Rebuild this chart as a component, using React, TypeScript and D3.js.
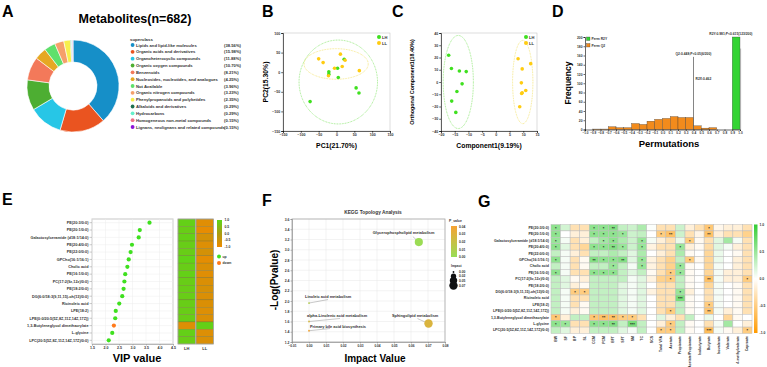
import { useEffect, useRef } from 'react';
import * as d3 from 'd3';

const FONT = "'Liberation Sans', Arial, sans-serif";

// A: superclass composition of the 682 metabolites
const superclassNames = [
    'Lipids and lipid-like molecules',
    'Organic acids and derivatives',
    'Organoheterocyclic compounds',
    'Organic oxygen compounds',
    'Benzenoids',
    'Nucleosides, nucleotides, and analogues',
    'Not Available',
    'Organic nitrogen compounds',
    'Phenylpropanoids and polyketides',
    'Alkaloids and derivatives',
    'Hydrocarbons',
    'Homogeneous non-metal compounds',
    'Lignans, neolignans and related compounds',
];
const superclassCounts = [263, 109, 81, 73, 56, 29, 27, 22, 16, 2, 2, 1, 1];
const superclassColors = [
    '#168fc8', '#ea5420', '#27c6e6', '#4dae32', '#f3795a', '#e6a823', '#5fe06c',
    '#f5a06a', '#f7ef4c', '#1e7050', '#66f0cc', '#ef7086', '#8b14d8',
];

// B: PCA scores
const pcaLH: [number, number][] = [
    [-21.5, 1], [-21.5, -5], [3, 10], [5, -13.5], [21.5, 33], [55, -40], [63, -53], [-74, -75],
];
const pcaLL: [number, number][] = [
    [-50, 34], [-37.5, 24.5], [-5.5, 10], [-22.5, -9], [11, 46], [24, 30.5], [16, 14.5], [64, 4],
];
const pcaEllipses = [
    { group: 'LH', cx: 5, cy: -25, rx: 110, ry: 107 },
    { group: 'LL', cx: -1, cy: 21, rx: 90, ry: 39 },
];
const pcaXTicks = [-150, -100, -50, 0, 50, 100, 150];
const pcaYTicks = [-150, -100, -50, 0, 50, 100];

// C: OPLS-DA scores
const oplsLH: [number, number][] = [
    [-17.2, 21.8], [-16.2, 11], [-13.3, 9], [-10.8, 8.5], [-12.3, -1.5], [-14.2, -7.7], [-16.1, -15.6], [-14.6, -24.8],
];
const oplsLL: [number, number][] = [
    [8.1, 19], [9.6, 10.7], [9.3, -0.7], [9.6, -8.8], [10.9, -6.9], [12.7, 15], [8.7, -20.2], [9.4, -9.4],
];
const oplsEllipses = [
    { group: 'LH', cx: -13.7, cy: 0, rx: 5.5, ry: 38 },
    { group: 'LL', cx: 9.8, cy: 0, rx: 3.7, ry: 34 },
];
const oplsXTicks = [-20, -15, -10, -5, 0, 5, 10, 15];
const oplsYTicks = [-40, -30, -20, -10, 0, 10, 20, 30, 40];

// D: permutation test (200 permutations)
const q2BinStarts = [-0.9, -0.8, -0.7, -0.6, -0.5, -0.4, -0.3, -0.2, -0.1, 0.0, 0.1, 0.2, 0.3, 0.4, 0.5, 0.6];
const q2Counts = [1, 1, 6, 4, 4, 13, 11, 18, 22, 24, 28, 26, 26, 8, 3, 4];
const r2yBinStarts = [0.9];
const r2yCounts = [200];
const q2Line = { x: 0.4, height: 157 };
const r2yLine = { x: 1.0, height: 175 };
const permXTicks = [-1.0, -0.9, -0.8, -0.7, -0.6, -0.5, -0.4, -0.3, -0.2, -0.1, 0.0, 0.1, 0.2, 0.3, 0.4, 0.5, 0.6, 0.7, 0.8, 0.9, 1.0];
const permYTicks = [0, 20, 40, 60, 80, 100, 120, 140, 160, 180, 200];

// E: VIP of differential metabolites
const metaboliteNames = [
    'PE(20:3/0:0)',
    'PE(20:1/0:0)',
    'Galactosylceramide (d18:1/14:0)',
    'PE(20:4/0:0)',
    'PE(22:0/0:0)',
    'GPCho(16:1/16:1)',
    'Cholic acid',
    'PE(16:1/0:0)',
    'PC(17:2(9z,12z)/0:0)',
    'PE(18:2/0:0)',
    'DG(6:0/18:3(9,11,15)-oh(13)/0:0)',
    'Ricinoleic acid',
    'LPE(18:2)',
    'LPE(0:0/20:5(5Z,8Z,11Z,14Z,17Z))',
    '1,3-Butyleneglycol dimethacrylate',
    'L-glycine',
    'LPC(20:5(5Z,8Z,11Z,14Z,17Z)/0:0)',
];
const vipValues = [3.63, 3.27, 3.23, 2.98, 2.93, 2.86, 2.81, 2.73, 2.7, 2.67, 2.62, 2.51, 2.38, 2.36, 2.31, 2.25, 2.12];
const vipTrend = ['up', 'up', 'up', 'up', 'up', 'up', 'up', 'up', 'up', 'up', 'up', 'up', 'up', 'up', 'down', 'up', 'up'];
const zLH = [0.9, 0.85, 0.9, 0.85, 0.85, 0.95, 0.85, 0.9, 0.85, 0.85, 0.85, 0.85, 0.85, 0.85, -0.75, 0.9, 0.85];
const zLL = [-0.8, -0.9, -0.6, -0.75, -0.6, -0.85, -0.7, -0.8, -0.7, -0.65, -0.7, -0.7, -0.75, -0.7, 0.9, -0.75, -0.7];
const vipTicks = [1.5, 2.0, 2.5, 3.0, 3.5, 4.0, 4.5];
const zTicks = [1.0, 0.5, 0.0, -0.5, -1.0];

// F: KEGG topology
const pathwayNames = [
    'Glycerophospholipid metabolism',
    'Sphingolipid metabolism',
    'Linoleic acid metabolism',
    'alpha-Linolenic acid metabolism',
    'Primary bile acid biosynthesis',
];
const pathwayImpact = [0.0646, 0.0703, 0.0, 0.0, 0.0];
const pathwayLogP = [3.15, 1.56, 1.96, 1.6, 1.42];
const impactTicks = [-0.01, 0.0, 0.01, 0.02, 0.03, 0.04, 0.05, 0.06, 0.07, 0.08];
const logPTicks = [1.2, 1.4, 1.6, 1.8, 2.0, 2.2, 2.4, 2.6, 2.8, 3.0, 3.2, 3.4, 3.6];
const pTicks = [0.04, 0.03, 0.02, 0.01, 0.0];
const impactLegend = [0.0, 0.02, 0.05, 0.07];

// G: correlation with phenotype / rumen fermentation
const envFactors = [
    'BW', 'SF', 'BP', 'SL', 'CCM', 'PCM', 'BFT', 'SFT', 'SM', 'TC', 'SCS', 'Total VFA', 'Acetate',
    'Propionate', 'Acetate/Propionate', 'Isobutyrate', 'Butyrate', 'Isovalerate', 'Valerate',
    '4-methylvalerate', 'Caproate',
];
const corrMatrix = [
    [0.55, 0.22, -0.3, -0.3, 0.55, 0.55, 0.6, 0.3, 0.25, 0.4, 0.02, -0.3, -0.3, 0.25, -0.15, -0.3, -0.55, -0.08, -0.15, -0.15, -0.3],
    [0.55, 0.0, -0.15, -0.15, 0.55, 0.55, 0.55, 0.5, 0.25, 0.3, 0.0, -0.5, -0.6, 0.25, -0.3, -0.1, -0.6, -0.15, -0.3, -0.3, -0.45],
    [0.5, 0.05, -0.3, -0.15, 0.3, 0.45, 0.55, 0.4, 0.25, 0.5, 0.05, -0.15, -0.3, 0.1, -0.5, -0.05, -0.3, 0.15, 0.45, 0.05, -0.3],
    [0.55, 0.15, -0.3, -0.4, 0.55, 0.55, 0.6, 0.5, 0.25, 0.5, -0.12, -0.3, -0.3, 0.5, -0.15, -0.05, -0.35, 0.15, 0.05, -0.15, -0.3],
    [0.3, 0.05, -0.15, -0.3, 0.3, 0.3, 0.4, 0.3, 0.15, 0.4, 0.0, -0.15, -0.3, 0.4, -0.05, 0.0, -0.4, 0.1, 0.0, -0.05, -0.3],
    [0.55, 0.05, -0.3, -0.05, 0.6, 0.55, 0.55, 0.6, 0.15, 0.5, -0.12, -0.3, -0.45, 0.3, -0.5, -0.05, -0.4, 0.1, 0.0, -0.15, -0.3],
    [0.3, 0.05, -0.3, -0.05, 0.3, 0.3, 0.5, 0.3, 0.05, 0.5, -0.12, -0.3, -0.45, 0.5, -0.05, 0.0, -0.4, 0.05, 0.0, -0.15, -0.3],
    [0.55, 0.05, -0.3, -0.3, 0.55, 0.55, 0.55, 0.3, 0.15, 0.3, -0.05, -0.3, -0.5, 0.5, -0.05, 0.0, -0.4, 0.05, -0.15, -0.15, -0.3],
    [0.3, 0.15, -0.05, -0.15, 0.3, 0.3, 0.3, 0.3, 0.05, 0.15, -0.12, -0.45, -0.5, 0.3, -0.05, 0.0, -0.6, 0.05, -0.15, -0.15, -0.5],
    [0.3, 0.15, -0.15, -0.05, 0.3, 0.3, 0.3, 0.15, 0.05, 0.15, 0.0, -0.3, -0.3, 0.3, -0.05, 0.0, -0.4, 0.05, 0.0, -0.05, -0.3],
    [0.3, 0.05, -0.5, -0.5, 0.3, 0.3, 0.3, 0.15, 0.05, 0.15, -0.12, -0.3, -0.3, 0.5, -0.15, 0.0, -0.3, 0.05, 0.0, -0.05, -0.3],
    [0.3, 0.05, -0.3, -0.3, 0.3, 0.3, 0.3, 0.15, 0.05, 0.15, 0.0, -0.3, -0.3, 0.65, -0.05, 0.0, -0.3, 0.05, 0.0, -0.05, -0.3],
    [0.3, 0.05, -0.3, -0.05, 0.3, 0.3, 0.3, 0.15, 0.05, 0.15, 0.0, -0.3, -0.3, 0.3, -0.05, 0.0, -0.5, 0.05, 0.0, -0.05, -0.3],
    [0.3, 0.05, -0.15, -0.05, 0.3, 0.3, 0.3, 0.15, 0.05, 0.15, 0.0, -0.3, -0.5, 0.3, -0.05, 0.0, -0.55, 0.05, -0.15, -0.05, -0.3],
    [-0.55, -0.15, 0.3, 0.3, -0.55, -0.6, -0.6, -0.5, -0.5, -0.3, 0.0, 0.15, -0.15, -0.3, 0.3, 0.0, 0.1, 0.0, -0.4, -0.05, 0.0],
    [0.55, 0.5, -0.3, -0.3, 0.55, 0.55, 0.6, 0.3, 0.65, 0.3, 0.0, -0.15, -0.5, 0.3, -0.05, 0.0, -0.3, 0.05, 0.45, 0.0, -0.15],
    [0.3, 0.15, -0.15, -0.15, 0.3, 0.3, 0.3, 0.15, 0.05, 0.3, 0.0, -0.5, -0.5, 0.3, -0.05, 0.0, -0.65, 0.05, -0.05, -0.15, -0.5],
];
const corrStars: [number, number, string][] = [
    [0, 0, '*'], [0, 4, '*'], [0, 5, '*'], [0, 6, '**'], [0, 16, '*'],
    [1, 0, '*'], [1, 4, '*'], [1, 5, '*'], [1, 6, '*'], [1, 7, '*'], [1, 11, '*'], [1, 12, '**'], [1, 16, '**'],
    [2, 0, '*'], [2, 5, '*'], [2, 6, '*'], [2, 9, '*'], [2, 14, '*'],
    [3, 0, '*'], [3, 4, '*'], [3, 5, '*'], [3, 6, '**'], [3, 7, '*'], [3, 9, '*'], [3, 13, '*'],
    [5, 0, '*'], [5, 4, '**'], [5, 5, '*'], [5, 6, '*'], [5, 7, '**'], [5, 9, '*'], [5, 14, '*'],
    [6, 6, '*'], [6, 9, '*'], [6, 13, '*'],
    [7, 0, '*'], [7, 4, '*'], [7, 5, '*'], [7, 6, '*'], [7, 12, '*'], [7, 13, '*'],
    [8, 12, '*'], [8, 16, '**'], [8, 20, '*'],
    [10, 2, '*'], [10, 3, '*'], [10, 13, '*'],
    [11, 13, '***'],
    [12, 16, '*'],
    [13, 12, '*'], [13, 16, '**'],
    [14, 0, '*'], [14, 4, '*'], [14, 5, '**'], [14, 6, '**'], [14, 7, '*'], [14, 8, '*'],
    [15, 0, '*'], [15, 1, '*'], [15, 4, '*'], [15, 5, '*'], [15, 6, '**'], [15, 8, '***'], [15, 12, '*'],
    [16, 11, '*'], [16, 12, '*'], [16, 16, '***'], [16, 20, '*'],
];
const corrTicks = [1.0, 0.5, 0.0, -0.5, -1.0];

const GREEN = '#3fe01f';
const YELLOW = '#ffcc11';

interface AxisProps {
    axis: any;
    transform: string;
    fontSize?: number;
    color?: string;
}

function Axis(props: AxisProps) {
    const { axis, transform, fontSize = 3.6, color = '#000' } = props;
    const ref = useRef<SVGGElement>(null);
    useEffect(() => {
        if (!ref.current) return;
        const g = d3.select(ref.current);
        g.call(axis);
        g.attr('font-size', null).attr('font-family', null);
        g.selectAll('text')
            .attr('font-size', fontSize)
            .attr('font-weight', 'bold')
            .attr('fill', '#333');
        g.selectAll('line, path').attr('stroke', color).attr('stroke-width', 0.6);
    });
    return <g ref={ref} transform={transform} />;
}

function PanelLabel({ x, y, text }: { x: number; y: number; text: string }) {
    return (
        <text x={x} y={y} fontSize={16} fontWeight="bold" fill="#000">
            {text}
        </text>
    );
}

function DonutPanel() {
    const total = d3.sum(superclassCounts);
    const pie = d3.pie<number>().sort(null).value((d) => d);
    const arc = d3.arc<d3.PieArcDatum<number>>().innerRadius(24).outerRadius(46);
    const arcs = pie(superclassCounts);
    const ly = d3.scalePoint<number>().domain(d3.range(superclassNames.length)).range([45, 127]);
    return (
        <g>
            <text x={135} y={23} fontSize={12.5} fontWeight="bold" textAnchor="middle">
                Metabolites(n={total})
            </text>
            <g transform="translate(73,86)">
                {arcs.map((a, i) => (
                    <path key={i} d={arc(a) || ''} fill={superclassColors[i]} stroke="#fff" strokeWidth={0.6} />
                ))}
            </g>
            <text x={130} y={40.5} fontSize={4.4} fontWeight="bold" fill="#333">
                superclass
            </text>
            {superclassNames.map((name, i) => (
                <g key={name} transform={`translate(0,${ly(i)})`}>
                    <circle cx={132.6} cy={0} r={1.9} fill={superclassColors[i]} />
                    <text x={136} y={1.5} fontSize={4.2} fontWeight="bold" fill="#333">
                        {name}
                    </text>
                    <text x={224} y={1.5} fontSize={4.2} fontWeight="bold" fill="#333">
                        ({((superclassCounts[i] / total) * 100).toFixed(2)}%)
                    </text>
                </g>
            ))}
        </g>
    );
}

interface ScoreProps {
    lh: [number, number][];
    ll: [number, number][];
    ellipses: { group: string; cx: number; cy: number; rx: number; ry: number }[];
    xDomain: [number, number];
    yDomain: [number, number];
    xTicks: number[];
    yTicks: number[];
    left: number;
    right: number;
    xLabel: string;
    yLabel: string;
    yLabelX: number;
    yLabelSize: number;
}

function ScorePlot(props: ScoreProps) {
    const { lh, ll, ellipses, xDomain, yDomain, xTicks, yTicks, left, right } = props;
    const x = d3.scaleLinear().domain(xDomain).range([left, right]);
    const y = d3.scaleLinear().domain(yDomain).range([131, 33]);
    const xAxis = d3.axisBottom(x).tickValues(xTicks).tickSize(1.8).tickPadding(1);
    const yAxis = d3.axisLeft(y).tickValues(yTicks).tickSize(1.8).tickPadding(1);
    return (
        <g>
            <rect x={left} y={33} width={right - left} height={98} fill="none" stroke="#bbb" strokeWidth={0.5} />
            {ellipses.map((e) => (
                <ellipse
                    key={e.group}
                    cx={x(e.cx)}
                    cy={y(e.cy)}
                    rx={x(e.cx + e.rx) - x(e.cx)}
                    ry={y(e.cy) - y(e.cy + e.ry)}
                    fill="none"
                    stroke={e.group === 'LH' ? '#6ee04e' : '#f0dc50'}
                    strokeWidth={0.7}
                    strokeDasharray="0.8,0.8"
                />
            ))}
            {lh.map((d, i) => (
                <circle key={`h${i}`} cx={x(d[0])} cy={y(d[1])} r={1.8} fill={GREEN} />
            ))}
            {ll.map((d, i) => (
                <circle key={`l${i}`} cx={x(d[0])} cy={y(d[1])} r={1.8} fill={YELLOW} />
            ))}
            <Axis axis={xAxis} transform="translate(0,131)" />
            <Axis axis={yAxis} transform={`translate(${left},0)`} />
            <circle cx={right - 11} cy={37} r={2} fill={GREEN} />
            <circle cx={right - 11} cy={43} r={2} fill={YELLOW} />
            <text x={right - 8} y={38.5} fontSize={4} fontWeight="bold" fill="#333">LH</text>
            <text x={right - 8} y={44.5} fontSize={4} fontWeight="bold" fill="#333">LL</text>
            <text x={(left + right) / 2} y={148} fontSize={6.8} fontWeight="bold" textAnchor="middle">
                {props.xLabel}
            </text>
            <text
                transform={`translate(${props.yLabelX},82) rotate(-90)`}
                fontSize={props.yLabelSize}
                fontWeight="bold"
                textAnchor="middle"
            >
                {props.yLabel}
            </text>
        </g>
    );
}

function PermutationPanel() {
    const x = d3.scaleLinear().domain([-1, 1]).range([585, 740]);
    const y = d3.scaleLinear().domain([0, 200]).range([129.5, 37]);
    const xAxis = d3.axisBottom(x).tickValues(permXTicks).tickFormat(d3.format('.1f')).tickSize(1.5).tickPadding(1);
    const yAxis = d3.axisLeft(y).tickValues(permYTicks).tickSize(1.5).tickPadding(1);
    return (
        <g>
            {q2BinStarts.map((s, i) => (
                <rect key={`q${i}`} x={x(s)} y={y(q2Counts[i])} width={x(s + 0.1) - x(s)} height={y(0) - y(q2Counts[i])} fill="#f28b1c" stroke="#333" strokeWidth={0.3} />
            ))}
            {r2yBinStarts.map((s, i) => (
                <rect key={`r${i}`} x={x(s)} y={y(r2yCounts[i])} width={x(s + 0.1) - x(s)} height={y(0) - y(r2yCounts[i])} fill="#33d433" stroke="#333" strokeWidth={0.3} />
            ))}
            <line x1={x(q2Line.x)} x2={x(q2Line.x)} y1={y(0)} y2={y(q2Line.height)} stroke="#666" strokeWidth={0.8} />
            <line x1={x(r2yLine.x) + 0.6} x2={x(r2yLine.x) + 0.6} y1={y(0)} y2={y(r2yLine.height)} stroke="#888" strokeWidth={0.6} />
            <Axis axis={xAxis} transform={`translate(0,${y(0)})`} fontSize={3.1} />
            <Axis axis={yAxis} transform={`translate(${x(-1)},0)`} fontSize={3.3} />
            <text x={x(0.9) - 23} y={35} fontSize={3.3} fontWeight="bold" fill="#333">R2Y:0.981;P&lt;0.615(123/200)</text>
            <text x={x(q2Line.x) - 18} y={y(q2Line.height) - 1.5} fontSize={3.3} fontWeight="bold" fill="#333">Q2:0.448;P&lt;0.05(6/200)</text>
            <text x={x(q2Line.x) + 2} y={80} fontSize={3.3} fontWeight="bold" fill="#333">R2X:0.462</text>
            <rect x={586.5} y={37} width={3.5} height={3.5} fill="#33d433" stroke="#333" strokeWidth={0.3} />
            <rect x={586.5} y={43.5} width={3.5} height={3.5} fill="#f28b1c" stroke="#333" strokeWidth={0.3} />
            <text x={591.5} y={40} fontSize={3.3} fontWeight="bold" fill="#333">Perm R2Y</text>
            <text x={591.5} y={46.5} fontSize={3.3} fontWeight="bold" fill="#333">Perm Q2</text>
            <text x={669} y={147} fontSize={9.5} fontWeight="bold" textAnchor="middle">Permutations</text>
            <text transform="translate(571,83) rotate(-90)" fontSize={8.5} fontWeight="bold" textAnchor="middle">Frequency</text>
        </g>
    );
}

function VipPanel() {
    const x = d3.scaleLinear().domain([1.5, 4.5]).range([92, 173]);
    const y = d3.scaleBand<string>().domain(metaboliteNames).range([219, 344]);
    const z = d3.scaleLinear<string>().domain([-1, 0, 1]).range(['#ee8a00', '#aa9c12', '#5cd618']);
    const xAxis = d3.axisBottom(x).tickValues(vipTicks).tickFormat(d3.format('.1f')).tickSize(1.5).tickPadding(1);
    const bw = y.bandwidth();
    const zBar = d3.scaleLinear().domain([1, -1]).range([220, 247]);
    return (
        <g>
            <rect x={92} y={219} width={81} height={125} fill="#fff" stroke="#c8c8c8" strokeWidth={1} />
            {vipTicks.map((t) => (
                <line key={t} x1={x(t)} x2={x(t)} y1={219} y2={344} stroke="#ececec" strokeWidth={0.5} />
            ))}
            {metaboliteNames.map((n) => (
                <line key={n} x1={92} x2={173} y1={(y(n) || 0) + bw / 2} y2={(y(n) || 0) + bw / 2} stroke="#ececec" strokeWidth={0.5} />
            ))}
            <Axis axis={xAxis} transform="translate(0,344)" color="#999" />
            {metaboliteNames.map((n, i) => (
                <g key={n}>
                    <text x={88.5} y={(y(n) || 0) + bw / 2 + 1.3} fontSize={3.8} fontWeight="bold" textAnchor="end" fill="#333">
                        {n}
                    </text>
                    <line x1={89.5} x2={92} y1={(y(n) || 0) + bw / 2} y2={(y(n) || 0) + bw / 2} stroke="#999" strokeWidth={0.5} />
                    <circle cx={x(vipValues[i])} cy={(y(n) || 0) + bw / 2} r={2.1} fill={vipTrend[i] === 'up' ? GREEN : '#ff7a1a'} />
                    <rect x={178} y={y(n)} width={17.5} height={bw} fill={z(zLH[i])} stroke="#6b6a30" strokeWidth={0.3} />
                    <rect x={196} y={y(n)} width={17.5} height={bw} fill={z(zLL[i])} stroke="#6b6a30" strokeWidth={0.3} />
                </g>
            ))}
            <rect x={178} y={219} width={17.5} height={125} fill="none" stroke="#aaa" strokeWidth={0.8} />
            <rect x={196} y={219} width={17.5} height={125} fill="none" stroke="#aaa" strokeWidth={0.8} />
            <text x={186.7} y={349.5} fontSize={4} fontWeight="bold" textAnchor="middle" fill="#333">LH</text>
            <text x={204.7} y={349.5} fontSize={4} fontWeight="bold" textAnchor="middle" fill="#333">LL</text>
            <defs>
                <linearGradient id="eGrad" x1="0" y1="0" x2="0" y2="1">
                    <stop offset="0%" stopColor={z(1)} />
                    <stop offset="50%" stopColor={z(0)} />
                    <stop offset="100%" stopColor={z(-1)} />
                </linearGradient>
            </defs>
            <rect x={217} y={220} width={5} height={27} fill="url(#eGrad)" />
            {zTicks.map((t) => (
                <text key={t} x={224.5} y={zBar(t) + 1.2} fontSize={3.4} fontWeight="bold" fill="#333">
                    {t.toFixed(1)}
                </text>
            ))}
            <circle cx={219} cy={256.5} r={2} fill={GREEN} />
            <circle cx={219} cy={263} r={2} fill="#ff7a1a" />
            <text x={222.5} y={257.8} fontSize={3.4} fontWeight="bold" fill="#333">up</text>
            <text x={222.5} y={264.3} fontSize={3.4} fontWeight="bold" fill="#333">down</text>
            <text x={137} y={362} fontSize={11} fontWeight="bold" textAnchor="middle">VIP value</text>
        </g>
    );
}

// leader-label placement for panel F: [text dx, text dy, line end dx, line end dy] from each point
const pathwayLabelOffsets = [
    [-46, -8, -6, -5.5],
    [-36.5, -6.5, -11, -5],
    [-4, -5, 19, -3.5],
    [-2, -4.5, 31, -3],
    [1, -2.7, 21, -2.2],
];

function KeggPanel() {
    const x = d3.scaleLinear().domain([-0.01, 0.08]).range([292, 445]);
    const y = d3.scaleLinear().domain([1.2, 3.6]).range([342, 219]);
    const color = d3.scaleLinear<string>().domain([0, 0.04]).range(['#99dd55', '#f7a233']);
    const size = d3.scaleSqrt().domain([0, 0.07]).range([0.9, 4.2]);
    const xAxis = d3.axisBottom(x).tickValues(impactTicks).tickFormat(d3.format('.2f')).tickSize(1.5).tickPadding(1);
    const yAxis = d3.axisLeft(y).tickValues(logPTicks).tickFormat(d3.format('.1f')).tickSize(1.5).tickPadding(1);
    const pBar = d3.scaleLinear().domain([0.04, 0]).range([226.5, 257]);
    const legendY = [272, 276.2, 280.6, 285.6];
    return (
        <g>
            <text x={373} y={213.5} fontSize={4.8} fontWeight="bold" textAnchor="middle" fill="#333">KEGG Topology Analysis</text>
            <rect x={292} y={219} width={153} height={123} fill="#fff" />
            {impactTicks.map((t) => (
                <line key={t} x1={x(t)} x2={x(t)} y1={219} y2={342} stroke="#e6e6e6" strokeWidth={0.5} />
            ))}
            {logPTicks.map((t) => (
                <line key={t} x1={292} x2={445} y1={y(t)} y2={y(t)} stroke="#e6e6e6" strokeWidth={0.5} />
            ))}
            <rect x={292} y={219} width={153} height={123} fill="none" stroke="#aaa" strokeWidth={0.8} />
            <Axis axis={xAxis} transform="translate(0,342)" color="#888" fontSize={3.2} />
            <Axis axis={yAxis} transform="translate(292,0)" color="#888" fontSize={3.4} />
            {pathwayNames.map((n, i) => {
                const px = x(pathwayImpact[i]);
                const py = y(pathwayLogP[i]);
                const [tdx, tdy, ldx, ldy] = pathwayLabelOffsets[i];
                return (
                    <g key={n}>
                        <line x1={px} y1={py} x2={px + ldx} y2={py + ldy} stroke="#777" strokeWidth={0.4} />
                        <circle cx={px} cy={py} r={size(pathwayImpact[i])} fill={color(Math.pow(10, -pathwayLogP[i]))} />
                        <text x={px + tdx} y={py + tdy} fontSize={3.9} fontWeight="bold" fill="#333">{n}</text>
                    </g>
                );
            })}
            <text x={449} y={222} fontSize={3.4} fontWeight="bold" fill="#333">P_value</text>
            <defs>
                <linearGradient id="fGrad" x1="0" y1="0" x2="0" y2="1">
                    <stop offset="0%" stopColor={color(0.04)} />
                    <stop offset="100%" stopColor={color(0)} />
                </linearGradient>
            </defs>
            <rect x={451} y={226} width={6} height={31} fill="url(#fGrad)" />
            {pTicks.map((t) => (
                <text key={t} x={459} y={pBar(t) + 1.2} fontSize={3.3} fontWeight="bold" fill="#333">{t.toFixed(2)}</text>
            ))}
            <text x={451} y={267} fontSize={3.3} fontWeight="bold" fill="#333">Impact</text>
            {impactLegend.map((t, i) => (
                <g key={t}>
                    <circle cx={453.5} cy={legendY[i]} r={size(t)} fill="#111" />
                    <text x={459} y={legendY[i] + 1.2} fontSize={3.3} fontWeight="bold" fill="#333">{t.toFixed(2)}</text>
                </g>
            ))}
            <text x={375} y={362} fontSize={10} fontWeight="bold" textAnchor="middle">Impact Value</text>
            <text transform="translate(278,280) rotate(-90)" fontSize={10} fontWeight="bold" textAnchor="middle">-Log(Pvalue)</text>
        </g>
    );
}

function CorrelationPanel() {
    const x = d3.scaleBand<string>().domain(envFactors).range([551, 752]);
    const y = d3.scaleBand<string>().domain(metaboliteNames).range([224.5, 333.5]);
    const color = d3.scaleLinear<string>().domain([-1, 0, 1]).range(['#ff9a00', '#ffffff', '#33cc33']);
    const bar = d3.scaleLinear().domain([1, -1]).range([224.5, 333]);
    return (
        <g>
            {corrMatrix.map((row, r) =>
                row.map((v, c) => (
                    <rect
                        key={`${r}-${c}`}
                        x={x(envFactors[c])}
                        y={y(metaboliteNames[r])}
                        width={x.bandwidth()}
                        height={y.bandwidth()}
                        fill={color(v)}
                        stroke="#bdbdbd"
                        strokeWidth={0.5}
                    />
                ))
            )}
            {corrStars.map(([r, c, s]) => (
                <text
                    key={`s${r}-${c}`}
                    x={(x(envFactors[c]) || 0) + x.bandwidth() / 2}
                    y={(y(metaboliteNames[r]) || 0) + y.bandwidth() / 2 + 2}
                    fontSize={4}
                    fontWeight="bold"
                    textAnchor="middle"
                    fill="#222"
                >
                    {s}
                </text>
            ))}
            {metaboliteNames.map((n) => (
                <text key={n} x={549} y={(y(n) || 0) + y.bandwidth() / 2 + 1.2} fontSize={3.6} fontWeight="bold" textAnchor="end" fill="#333">
                    {n}
                </text>
            ))}
            {envFactors.map((f) => (
                <text
                    key={f}
                    transform={`translate(${(x(f) || 0) + x.bandwidth() / 2 + 1.2},336) rotate(-90)`}
                    fontSize={3.5}
                    fontWeight="bold"
                    textAnchor="end"
                    fill="#333"
                >
                    {f}
                </text>
            ))}
            <defs>
                <linearGradient id="gGrad" x1="0" y1="0" x2="0" y2="1">
                    <stop offset="0%" stopColor={color(1)} />
                    <stop offset="50%" stopColor={color(0)} />
                    <stop offset="100%" stopColor={color(-1)} />
                </linearGradient>
            </defs>
            <rect x={754} y={224.5} width={3.5} height={108.5} fill="url(#gGrad)" />
            {corrTicks.map((t) => (
                <text key={t} x={759.5} y={bar(t) + 1.2} fontSize={3.4} fontWeight="bold" fill="#333">{t.toFixed(1)}</text>
            ))}
        </g>
    );
}

export default function App() {
    return (
        <svg
            width={767}
            height={367}
            viewBox="0 0 767 367"
            style={{ position: 'absolute', left: 0, top: 0, background: '#fff' }}
            fontFamily={FONT}
        >
            <rect width={767} height={367} fill="#fff" />
            <PanelLabel x={2} y={17} text="A" />
            <PanelLabel x={262} y={17} text="B" />
            <PanelLabel x={392} y={17} text="C" />
            <PanelLabel x={552} y={17} text="D" />
            <PanelLabel x={2} y={205} text="E" />
            <PanelLabel x={262} y={206} text="F" />
            <PanelLabel x={478} y={207} text="G" />
            <DonutPanel />
            <ScorePlot
                lh={pcaLH}
                ll={pcaLL}
                ellipses={pcaEllipses}
                xDomain={[-150, 150]}
                yDomain={[-150, 100]}
                xTicks={pcaXTicks}
                yTicks={pcaYTicks}
                left={283}
                right={390}
                xLabel="PC1(21.70%)"
                yLabel="PC2(15.30%)"
                yLabelX={268}
                yLabelSize={6.8}
            />
            <ScorePlot
                lh={oplsLH}
                ll={oplsLL}
                ellipses={oplsEllipses}
                xDomain={[-20, 15]}
                yDomain={[-40, 40]}
                xTicks={oplsXTicks}
                yTicks={oplsYTicks}
                left={441}
                right={537}
                xLabel="Component1(9.19%)"
                yLabel="Orthogonal Component1(18.40%)"
                yLabelX={414}
                yLabelSize={5.4}
            />
            <PermutationPanel />
            <VipPanel />
            <KeggPanel />
            <CorrelationPanel />
        </svg>
    );
}
